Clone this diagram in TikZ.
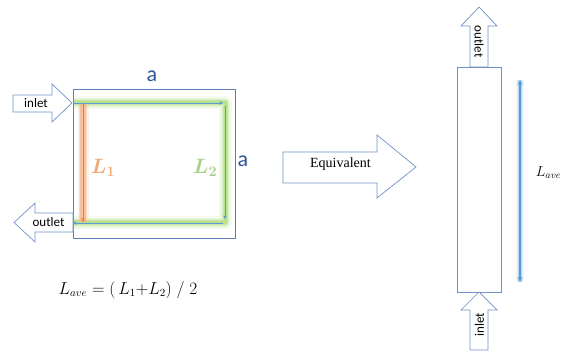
\documentclass[tikz,border=0pt]{standalone}
\usepackage{amsmath}
\usepackage{bm}
\usepackage{fontspec}
\newfontfamily\calib{Carlito}
\newfontfamily\timesf{Liberation Serif}
\usetikzlibrary{arrows.meta}
\definecolor{outl}{HTML}{7191C8}
\definecolor{boxl}{HTML}{5E7FB8}
\definecolor{adark}{HTML}{2F5597}
\definecolor{lblue}{HTML}{5B9BD5}
\definecolor{gglow}{HTML}{92D050}
\definecolor{oglow}{HTML}{F4B183}
\definecolor{odark}{HTML}{ED7D31}
\definecolor{lgreen}{HTML}{A9D18E}
\tikzset{
  blockarrow/.style={draw=outl, line width=0.7pt, fill=white, line join=miter},
  boxshape/.style={draw=boxl, line width=0.7pt},
  thinarr/.style={draw=lblue, line width=0.6pt, -{Stealth[length=3.5pt,width=3.5pt]}},
  lbl/.style={font=\calib\fontsize{13}{14}\selectfont, inner sep=0pt},
  alab/.style={font=\calib\fontsize{22}{24}\selectfont, text=adark, inner sep=0pt},
}
\begin{document}
\begin{tikzpicture}[x=1pt,y=-1pt]
\useasboundingbox (0,0) rectangle (565,352);
% square
\node[boxshape, minimum width=162pt, minimum height=149pt, anchor=north west, inner sep=0pt] (sq) at (73,89) {};
% green glow path
\coordinate (g1) at (74,103);
\coordinate (g2) at (225,103);
\coordinate (g3) at (225,223);
\coordinate (g4) at (74,223);
\foreach \w/\o in {13/0.08,10/0.12,7/0.18,5/0.25,3/0.3}{
  \draw[gglow, line width=\w pt, opacity=\o, line join=round] (g1) -- (g2) -- (g3) -- (g4);
}
% orange glow
\coordinate (o1) at (83,103);
\coordinate (o2) at (83,222);
\foreach \w/\o in {11/0.15,8/0.35,6/0.6}{
  \draw[oglow, line width=\w pt, opacity=\o] (o1) -- (o2);
}
\draw[odark, line width=0.8pt, -{Stealth[length=4pt,width=3.5pt]}] (o1) -- (o2);
% thin blue arrows
\coordinate (b1s) at (73,103);
\coordinate (b1e) at (223,103);
\coordinate (b2s) at (225,106);
\coordinate (b2e) at (225,219);
\coordinate (b3s) at (223,223);
\coordinate (b3e) at (73,223);
\draw[thinarr] (b1s) -- (b1e);
\draw[thinarr] (b2s) -- (b2e);
\draw[thinarr] (b3s) -- (b3e);
% inlet arrow (left)
\draw[blockarrow] (13,95) -- (52,95) -- (52,84) -- (72,103) -- (52,122) -- (52,112) -- (13,112) -- cycle;
\node[lbl] (inl) at (36,103) {inlet};
% outlet arrow (left)
\draw[blockarrow] (73,213) -- (35,213) -- (35,203) -- (14,222.5) -- (35,242) -- (35,232) -- (73,232) -- cycle;
\node[lbl] (outl1) at (48.5,222) {outlet};
% labels a
\node[alab] (atop) at (152,76) {a};
\node[alab] (aright) at (243,161) {a};
% L1 L2
\node[inner sep=0pt, text=oglow!85!odark, font=\fontsize{20}{22}\selectfont] (L1) at (103,168) {$\bm{L_1}$};
\node[inner sep=0pt, text=lgreen!90!gglow, font=\fontsize{20}{22}\selectfont] (L2) at (205,168) {$\bm{L_2}$};
% formula
\node[inner sep=0pt, font=\fontsize{16}{18}\selectfont] (form) at (128,290) {$L_{ave} = (\,L_1{+}L_2)\;/\;2$};
% equivalent arrow
\draw[blockarrow] (283,152) -- (377,152) -- (377,135) -- (416,167) -- (377,198) -- (377,183) -- (283,183) -- cycle;
\node[inner sep=0pt, font=\timesf\fontsize{14}{15}\selectfont] (eq) at (340.5,164) {Equivalent};
% tall rectangle
\node[boxshape, draw=outl, minimum width=44pt, minimum height=225pt, anchor=north west, inner sep=0pt] (tall) at (457,67) {};
% outlet up arrow
\draw[blockarrow] (470,67) -- (470,26) -- (461,26) -- (479,7) -- (497,26) -- (488,26) -- (488,67) -- cycle;
\node[lbl, rotate=-90] (outl2) at (479,41.5) {outlet};
% inlet up arrow
\draw[blockarrow] (470,350) -- (470,310) -- (461,310) -- (479,292) -- (497,310) -- (488,310) -- (488,350) -- cycle;
\node[lbl, rotate=90] (inl2) at (479.5,325) {inlet};
% Lave arrow
\coordinate (v1) at (520,80);
\coordinate (v2) at (520,282);
\foreach \w/\o in {8/0.1,6/0.2,4/0.35}{
  \draw[lblue!70, line width=\w pt, opacity=\o] (v1) -- (v2);
}
\draw[lblue, line width=1.4pt, {Stealth[length=5pt,width=5pt]}-{Stealth[length=5pt,width=5pt]}] (v1) -- (v2);
\node[inner sep=0pt, font=\fontsize{14}{16}\selectfont] (lave) at (548.5,173) {$L_{ave}$};
\end{tikzpicture}
\end{document}
